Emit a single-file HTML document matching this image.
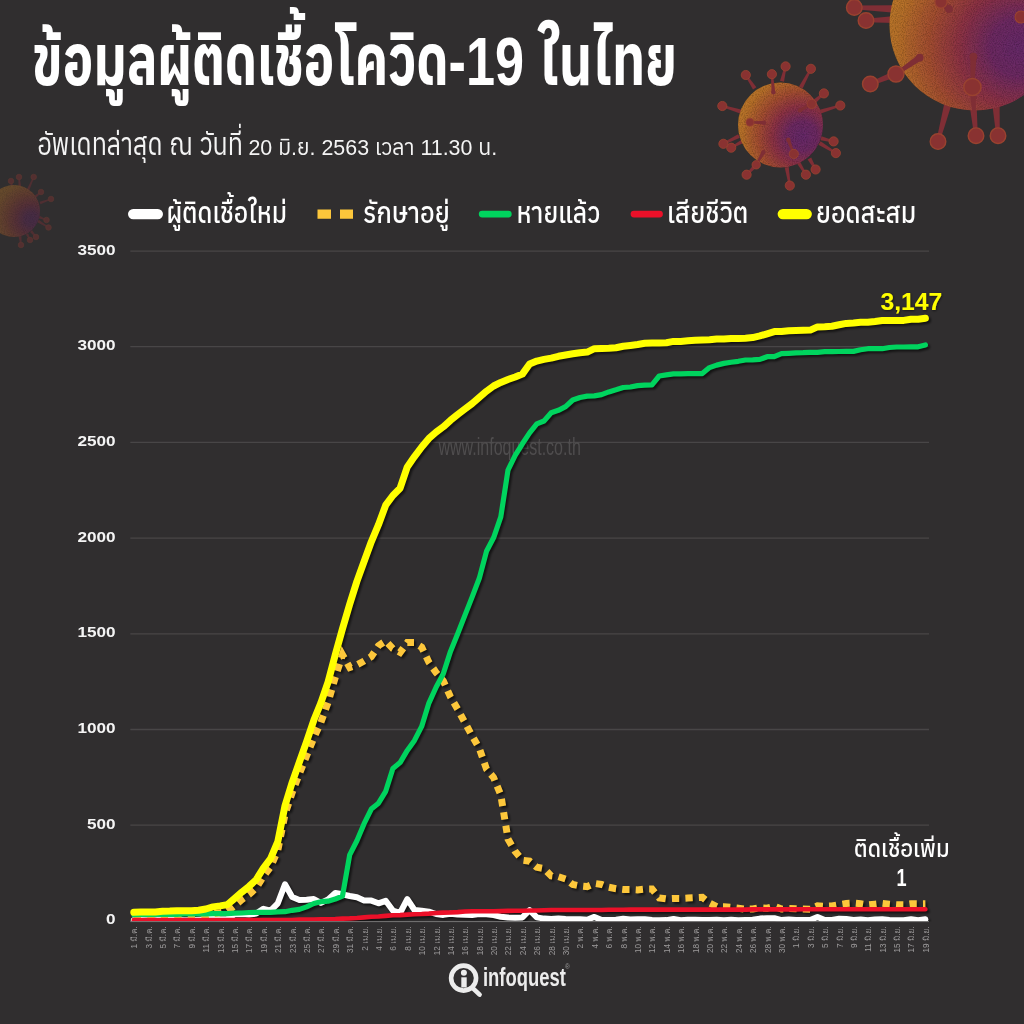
<!DOCTYPE html>
<html lang="th">
<head>
<meta charset="utf-8">
<title>ข้อมูลผู้ติดเชื้อโควิด-19 ในไทย</title>
<style>
html,body{margin:0;padding:0;}
body{width:1024px;height:1024px;overflow:hidden;background:#302e2f;position:relative;
 font-family:"Liberation Sans","Anuphan","Kanit","Noto Sans Thai",sans-serif;color:#fff;}
svg{position:absolute;left:0;top:0;display:block;}
.th{font-family:"Liberation Sans","Anuphan","Kanit","IBM Plex Sans Thai","Noto Sans Thai",sans-serif;}
</style>
</head>
<body>
<svg width="1024" height="1024" viewBox="0 0 1024 1024">
<defs>
<radialGradient id="gv" cx="0.76" cy="0.63" r="0.85">
<stop offset="0" stop-color="#6f2b72"/><stop offset="0.2" stop-color="#762b6a"/>
<stop offset="0.42" stop-color="#9c3548"/><stop offset="0.62" stop-color="#b55333"/>
<stop offset="0.85" stop-color="#cc7c2a"/><stop offset="1" stop-color="#d4872a"/>
</radialGradient>
<radialGradient id="gv2" cx="0.84" cy="0.66" r="0.9">
<stop offset="0" stop-color="#6f2b72"/><stop offset="0.14" stop-color="#762b6a"/>
<stop offset="0.34" stop-color="#9c3548"/><stop offset="0.54" stop-color="#b55333"/>
<stop offset="0.8" stop-color="#cc7c2a"/><stop offset="1" stop-color="#d4872a"/>
</radialGradient>
<filter id="grain" x="0" y="0" width="100%" height="100%">
<feTurbulence type="fractalNoise" baseFrequency="0.9" numOctaves="2" seed="3" result="n"/>
<feColorMatrix in="n" type="matrix" values="0 0 0 0 0  0 0 0 0 0  0 0 0 0 0  0.9 0 0 0 -0.32" result="a"/>
<feComposite in="a" in2="SourceAlpha" operator="in" result="g"/>
<feMerge><feMergeNode in="SourceGraphic"/><feMergeNode in="g"/></feMerge>
</filter>
<filter id="sh" x="-5%" y="-5%" width="110%" height="110%">
<feGaussianBlur in="SourceAlpha" stdDeviation="1.3"/><feOffset dx="1.8" dy="2.4" result="b"/>
<feFlood flood-color="#000" flood-opacity="0.6"/><feComposite in2="b" operator="in"/>
</filter>
<filter id="sh2" x="-10%" y="-20%" width="120%" height="140%"><feDropShadow dx="0.6" dy="0.8" stdDeviation="1" flood-color="#000" flood-opacity="0.6"/></filter>
</defs>
<!-- decorative virus illustrations -->
<g opacity="0.86">
<polygon points="891.9,12.4 892.1,5.2 854.4,5.6 854.2,9.2" fill="#8c2e36"/><circle cx="854.3" cy="7.4" r="7.8" fill="#983332" stroke="#ab4630" stroke-width="1.4"/>
<polygon points="895.1,23.1 894.9,15.9 865.9,18.7 866.1,22.3" fill="#8c2e36"/><circle cx="866.0" cy="20.5" r="7.8" fill="#983332" stroke="#ab4630" stroke-width="1.4"/>
<polygon points="901.3,75.3 898.7,68.7 869.6,82.3 871.0,85.7" fill="#8c2e36"/><circle cx="870.3" cy="84.0" r="7.8" fill="#983332" stroke="#ab4630" stroke-width="1.4"/>
<polygon points="951.5,104.4 944.5,102.6 936.3,141.1 939.7,142.1" fill="#8c2e36"/><circle cx="938.0" cy="141.6" r="7.8" fill="#983332" stroke="#ab4630" stroke-width="1.4"/>
<polygon points="976.6,103.7 969.4,104.3 974.2,135.9 977.8,135.5" fill="#8c2e36"/><circle cx="976.0" cy="135.7" r="7.8" fill="#983332" stroke="#ab4630" stroke-width="1.4"/>
<polygon points="999.6,104.8 992.4,105.2 996.2,135.8 999.8,135.6" fill="#8c2e36"/><circle cx="998.0" cy="135.7" r="7.8" fill="#983332" stroke="#ab4630" stroke-width="1.4"/>
<polygon points="1024.5,19.5 1023.5,12.5 1019.7,14.8 1020.3,18.4" fill="#8c2e36"/><circle cx="1020.0" cy="16.6" r="7.8" fill="#983332" stroke="#ab4630" stroke-width="1.4"/>
<circle cx="975.0" cy="25.0" r="85.5" fill="url(#gv)" filter="url(#grain)"/>
<polygon points="921.5,60.2 917.9,55.0 895.0,72.5 897.0,75.5" fill="#8c2e36"/><circle cx="919.7" cy="57.6" r="3.9" fill="#8c2e36"/><circle cx="896.0" cy="74.0" r="8.0" fill="#983332" stroke="#ab4630" stroke-width="1.4"/>
<polygon points="975.9,89.8 969.7,90.2 972.2,112.1 975.8,111.9" fill="#8c2e36"/><circle cx="972.8" cy="90.0" r="3.9" fill="#8c2e36"/><circle cx="974.0" cy="112.0" r="0.1" fill="#983332" stroke="#ab4630" stroke-width="0.6"/>
<polygon points="976.5,56.7 970.3,56.5 970.6,86.9 974.2,87.1" fill="#8c2e36"/><circle cx="973.4" cy="56.6" r="3.9" fill="#8c2e36"/><circle cx="972.4" cy="87.0" r="8.6" fill="#983332" stroke="#ab4630" stroke-width="1.5"/>
<polygon points="946.9,11.4 951.1,6.6 942.2,0.7 939.8,3.3" fill="#8c2e36"/><circle cx="949.0" cy="9.0" r="3.9" fill="#8c2e36"/><circle cx="941.0" cy="2.0" r="6.0" fill="#983332" stroke="#ab4630" stroke-width="1.1"/>
<polygon points="1030.0,20.1 1030.0,13.8 1021.0,15.2 1021.0,18.8" fill="#8c2e36"/><circle cx="1030.0" cy="17.0" r="3.9" fill="#8c2e36"/><circle cx="1021.0" cy="17.0" r="6.0" fill="#983332" stroke="#ab4630" stroke-width="1.1"/>
</g>
<g opacity="0.86">
<polygon points="753.0,89.4 756.4,87.2 746.6,74.4 745.0,75.6" fill="#8c2e36"/><circle cx="745.8" cy="75.0" r="4.6" fill="#983332" stroke="#ab4630" stroke-width="0.8"/>
<polygon points="780.0,80.8 784.0,81.8 786.6,66.6 784.6,66.2" fill="#8c2e36"/><circle cx="785.6" cy="66.4" r="4.6" fill="#983332" stroke="#ab4630" stroke-width="0.8"/>
<polygon points="799.0,86.5 802.6,88.5 811.8,69.2 810.0,68.3" fill="#8c2e36"/><circle cx="810.9" cy="68.8" r="4.6" fill="#983332" stroke="#ab4630" stroke-width="0.8"/>
<polygon points="813.7,99.4 816.3,102.6 824.6,94.2 823.2,92.6" fill="#8c2e36"/><circle cx="823.9" cy="93.4" r="4.6" fill="#983332" stroke="#ab4630" stroke-width="0.8"/>
<polygon points="819.7,109.8 820.9,113.6 840.6,106.5 840.0,104.5" fill="#8c2e36"/><circle cx="840.3" cy="105.5" r="4.6" fill="#983332" stroke="#ab4630" stroke-width="0.8"/>
<polygon points="821.5,136.3 820.5,140.3 833.4,142.4 833.8,140.4" fill="#8c2e36"/><circle cx="833.6" cy="141.4" r="4.6" fill="#983332" stroke="#ab4630" stroke-width="0.8"/>
<polygon points="820.6,141.3 818.4,144.7 835.4,154.0 836.4,152.2" fill="#8c2e36"/><circle cx="835.9" cy="153.1" r="4.6" fill="#983332" stroke="#ab4630" stroke-width="0.8"/>
<polygon points="811.2,157.6 807.6,159.6 814.7,170.0 816.5,169.0" fill="#8c2e36"/><circle cx="815.6" cy="169.5" r="4.6" fill="#983332" stroke="#ab4630" stroke-width="0.8"/>
<polygon points="798.7,158.9 795.3,161.1 805.0,175.2 806.8,174.2" fill="#8c2e36"/><circle cx="805.9" cy="174.7" r="4.6" fill="#983332" stroke="#ab4630" stroke-width="0.8"/>
<polygon points="788.7,166.9 784.7,167.5 788.8,185.8 790.8,185.4" fill="#8c2e36"/><circle cx="789.8" cy="185.6" r="4.6" fill="#983332" stroke="#ab4630" stroke-width="0.8"/>
<polygon points="757.7,166.2 754.8,163.4 745.9,174.0 747.3,175.4" fill="#8c2e36"/><circle cx="746.6" cy="174.7" r="4.6" fill="#983332" stroke="#ab4630" stroke-width="0.8"/>
<polygon points="745.5,142.1 743.5,138.5 730.8,146.8 731.7,148.6" fill="#8c2e36"/><circle cx="731.2" cy="147.7" r="4.6" fill="#983332" stroke="#ab4630" stroke-width="0.8"/>
<polygon points="739.9,137.8 738.1,134.2 722.9,142.8 723.9,144.7" fill="#8c2e36"/><circle cx="723.4" cy="143.8" r="4.6" fill="#983332" stroke="#ab4630" stroke-width="0.8"/>
<polygon points="740.8,113.7 742.0,109.7 722.6,105.0 722.0,107.0" fill="#8c2e36"/><circle cx="722.3" cy="106.0" r="4.6" fill="#983332" stroke="#ab4630" stroke-width="0.8"/>
<circle cx="780.5" cy="125.0" r="42.5" fill="url(#gv)" filter="url(#grain)"/>
<polygon points="771.6,92.3 775.2,92.1 772.9,74.1 770.9,74.3" fill="#8c2e36"/><circle cx="773.4" cy="92.2" r="2.2" fill="#8c2e36"/><circle cx="771.9" cy="74.2" r="4.6" fill="#983332" stroke="#ab4630" stroke-width="0.8"/>
<polygon points="799.1,108.6 800.9,111.8 812.2,104.8 811.2,103.0" fill="#8c2e36"/><circle cx="800.0" cy="110.2" r="2.2" fill="#8c2e36"/><circle cx="811.7" cy="103.9" r="4.6" fill="#983332" stroke="#ab4630" stroke-width="0.8"/>
<polygon points="790.0,139.2 786.6,140.4 792.8,154.3 794.7,153.5" fill="#8c2e36"/><circle cx="788.3" cy="139.8" r="2.2" fill="#8c2e36"/><circle cx="793.8" cy="153.9" r="4.6" fill="#983332" stroke="#ab4630" stroke-width="0.8"/>
<polygon points="764.9,153.2 761.7,151.4 755.4,164.3 757.1,165.3" fill="#8c2e36"/><circle cx="763.3" cy="152.3" r="2.2" fill="#8c2e36"/><circle cx="756.2" cy="164.8" r="4.2" fill="#983332" stroke="#ab4630" stroke-width="0.8"/>
<polygon points="763.9,124.5 764.1,120.9 750.0,121.3 750.0,123.3" fill="#8c2e36"/><circle cx="764.0" cy="122.7" r="2.2" fill="#8c2e36"/><circle cx="750.0" cy="122.3" r="4.0" fill="#983332" stroke="#ab4630" stroke-width="0.7"/>
</g>
<g opacity="0.34">
<polygon points="18.6,188.1 21.4,187.9 19.7,176.9 18.3,177.1" fill="#8c2e36"/><circle cx="19.0" cy="177.0" r="2.8" fill="#983332" stroke="#ab4630" stroke-width="0.6"/>
<polygon points="10.7,188.2 13.3,187.8 11.7,180.9 10.3,181.1" fill="#8c2e36"/><circle cx="11.0" cy="181.0" r="2.8" fill="#983332" stroke="#ab4630" stroke-width="0.6"/>
<polygon points="26.8,189.5 29.2,190.5 34.3,177.3 33.1,176.7" fill="#8c2e36"/><circle cx="33.7" cy="177.0" r="2.8" fill="#983332" stroke="#ab4630" stroke-width="0.6"/>
<polygon points="34.1,196.0 35.9,198.0 41.4,192.5 40.6,191.5" fill="#8c2e36"/><circle cx="41.0" cy="192.0" r="2.8" fill="#983332" stroke="#ab4630" stroke-width="0.6"/>
<polygon points="39.5,201.7 40.5,204.3 51.2,199.6 50.8,198.4" fill="#8c2e36"/><circle cx="51.0" cy="199.0" r="2.8" fill="#983332" stroke="#ab4630" stroke-width="0.6"/>
<polygon points="39.5,215.7 38.5,218.3 46.2,220.6 46.8,219.4" fill="#8c2e36"/><circle cx="46.5" cy="220.0" r="2.8" fill="#983332" stroke="#ab4630" stroke-width="0.6"/>
<polygon points="38.7,219.8 37.3,222.2 48.1,228.1 48.9,226.9" fill="#8c2e36"/><circle cx="48.5" cy="227.5" r="2.8" fill="#983332" stroke="#ab4630" stroke-width="0.6"/>
<polygon points="32.0,230.1 30.0,231.9 35.5,237.4 36.5,236.6" fill="#8c2e36"/><circle cx="36.0" cy="237.0" r="2.8" fill="#983332" stroke="#ab4630" stroke-width="0.6"/>
<polygon points="28.2,233.4 25.8,234.6 29.4,240.3 30.6,239.7" fill="#8c2e36"/><circle cx="30.0" cy="240.0" r="2.8" fill="#983332" stroke="#ab4630" stroke-width="0.6"/>
<polygon points="21.4,235.8 18.6,236.2 20.3,245.1 21.7,244.9" fill="#8c2e36"/><circle cx="21.0" cy="245.0" r="2.8" fill="#983332" stroke="#ab4630" stroke-width="0.6"/>
<circle cx="14.0" cy="211.0" r="26.0" fill="url(#gv2)" filter="url(#grain)"/>
</g>

<!-- headings -->
<g class="th" fill="#fff">
<text x="32" y="85" font-size="69" font-weight="660" textLength="645" lengthAdjust="spacingAndGlyphs">ข้อมูลผู้ติดเชื้อโควิด-19 ในไทย</text>
<text x="37.4" y="155.3" font-size="30.4" font-weight="400" fill="#f4f4f4" textLength="205.6" lengthAdjust="spacingAndGlyphs">อัพเดทล่าสุด ณ วันที่</text>
<text x="248.4" y="155.3" font-size="22" font-weight="400" fill="#f4f4f4" textLength="248.9" lengthAdjust="spacingAndGlyphs">20 มิ.ย. 2563 เวลา 11.30 น.</text>
</g>
<!-- legend -->
<g class="th" fill="#fff" font-size="29" font-weight="500">
<text x="166.4" y="222.5" textLength="120.7" lengthAdjust="spacingAndGlyphs">ผู้ติดเชื้อใหม่</text>
<text x="363" y="222.5" textLength="86.8" lengthAdjust="spacingAndGlyphs">รักษาอยู่</text>
<text x="516.4" y="222.5" textLength="83.8" lengthAdjust="spacingAndGlyphs">หายแล้ว</text>
<text x="667" y="222.5" textLength="81.5" lengthAdjust="spacingAndGlyphs">เสียชีวิต</text>
<text x="816" y="222.5" textLength="100.3" lengthAdjust="spacingAndGlyphs">ยอดสะสม</text>
</g>
<g fill="none" stroke-linecap="round">
<line x1="133.2" x2="157.8" y1="214.1" y2="214.1" stroke="#fff" stroke-width="10.4"/>
<line x1="317.5" x2="353" y1="214.1" y2="214.1" stroke="#fdc73b" stroke-width="9.2" stroke-dasharray="13.5 9" stroke-linecap="butt"/>
<line x1="482.2" x2="508.3" y1="214.1" y2="214.1" stroke="#00d45e" stroke-width="6.8"/>
<line x1="634" x2="659.5" y1="214.1" y2="214.1" stroke="#ec1029" stroke-width="6.8"/>
<line x1="782.8" x2="806.7" y1="214.1" y2="214.1" stroke="#ffff00" stroke-width="10.4"/>
</g>
<!-- chart -->
<g stroke="#484647" stroke-width="1.3">
<line x1="130.3" x2="929" y1="825.2" y2="825.2"/>
<line x1="130.3" x2="929" y1="729.5" y2="729.5"/>
<line x1="130.3" x2="929" y1="633.8" y2="633.8"/>
<line x1="130.3" x2="929" y1="538.1" y2="538.1"/>
<line x1="130.3" x2="929" y1="442.4" y2="442.4"/>
<line x1="130.3" x2="929" y1="346.7" y2="346.7"/>
<line x1="130.3" x2="929" y1="251.1" y2="251.1"/>
</g>
<text x="438.5" y="454.8" font-family="'Liberation Sans Narrow','Liberation Sans',sans-serif" font-size="24.7" fill="#4f4d4e" textLength="142.3" lengthAdjust="spacingAndGlyphs">www.infoquest.co.th</text>
<g font-family="'Liberation Sans',sans-serif" font-weight="700" font-size="15.2" fill="#f4f4f4">
<text transform="translate(115.6 924.4) scale(1.13 1)" text-anchor="end">0</text>
<text transform="translate(115.6 828.7) scale(1.13 1)" text-anchor="end">500</text>
<text transform="translate(115.6 733.0) scale(1.13 1)" text-anchor="end">1000</text>
<text transform="translate(115.6 637.3) scale(1.13 1)" text-anchor="end">1500</text>
<text transform="translate(115.6 541.7) scale(1.13 1)" text-anchor="end">2000</text>
<text transform="translate(115.6 446.0) scale(1.13 1)" text-anchor="end">2500</text>
<text transform="translate(115.6 350.3) scale(1.13 1)" text-anchor="end">3000</text>
<text transform="translate(115.6 254.6) scale(1.13 1)" text-anchor="end">3500</text>
</g>
<g font-family="'Liberation Sans','Loma','Noto Sans Thai',sans-serif" font-size="8.2" fill="#9c9a9b">
<text transform="translate(137.2 926.3) rotate(-90)" text-anchor="end">1 มี.ค.</text>
<text transform="translate(151.6 926.3) rotate(-90)" text-anchor="end">3 มี.ค.</text>
<text transform="translate(166.0 926.3) rotate(-90)" text-anchor="end">5 มี.ค.</text>
<text transform="translate(180.4 926.3) rotate(-90)" text-anchor="end">7 มี.ค.</text>
<text transform="translate(194.8 926.3) rotate(-90)" text-anchor="end">9 มี.ค.</text>
<text transform="translate(209.2 926.3) rotate(-90)" text-anchor="end">11 มี.ค.</text>
<text transform="translate(223.6 926.3) rotate(-90)" text-anchor="end">13 มี.ค.</text>
<text transform="translate(238.0 926.3) rotate(-90)" text-anchor="end">15 มี.ค.</text>
<text transform="translate(252.4 926.3) rotate(-90)" text-anchor="end">17 มี.ค.</text>
<text transform="translate(266.8 926.3) rotate(-90)" text-anchor="end">19 มี.ค.</text>
<text transform="translate(281.2 926.3) rotate(-90)" text-anchor="end">21 มี.ค.</text>
<text transform="translate(295.6 926.3) rotate(-90)" text-anchor="end">23 มี.ค.</text>
<text transform="translate(310.0 926.3) rotate(-90)" text-anchor="end">25 มี.ค.</text>
<text transform="translate(324.3 926.3) rotate(-90)" text-anchor="end">27 มี.ค.</text>
<text transform="translate(338.7 926.3) rotate(-90)" text-anchor="end">29 มี.ค.</text>
<text transform="translate(353.1 926.3) rotate(-90)" text-anchor="end">31 มี.ค.</text>
<text transform="translate(367.5 926.3) rotate(-90)" text-anchor="end">2 เม.ย.</text>
<text transform="translate(381.9 926.3) rotate(-90)" text-anchor="end">4 เม.ย.</text>
<text transform="translate(396.3 926.3) rotate(-90)" text-anchor="end">6 เม.ย.</text>
<text transform="translate(410.7 926.3) rotate(-90)" text-anchor="end">8 เม.ย.</text>
<text transform="translate(425.1 926.3) rotate(-90)" text-anchor="end">10 เม.ย.</text>
<text transform="translate(439.5 926.3) rotate(-90)" text-anchor="end">12 เม.ย.</text>
<text transform="translate(453.9 926.3) rotate(-90)" text-anchor="end">14 เม.ย.</text>
<text transform="translate(468.3 926.3) rotate(-90)" text-anchor="end">16 เม.ย.</text>
<text transform="translate(482.7 926.3) rotate(-90)" text-anchor="end">18 เม.ย.</text>
<text transform="translate(497.0 926.3) rotate(-90)" text-anchor="end">20 เม.ย.</text>
<text transform="translate(511.4 926.3) rotate(-90)" text-anchor="end">22 เม.ย.</text>
<text transform="translate(525.8 926.3) rotate(-90)" text-anchor="end">24 เม.ย.</text>
<text transform="translate(540.2 926.3) rotate(-90)" text-anchor="end">26 เม.ย.</text>
<text transform="translate(554.6 926.3) rotate(-90)" text-anchor="end">28 เม.ย.</text>
<text transform="translate(569.0 926.3) rotate(-90)" text-anchor="end">30 เม.ย.</text>
<text transform="translate(583.4 926.3) rotate(-90)" text-anchor="end">2 พ.ค.</text>
<text transform="translate(597.8 926.3) rotate(-90)" text-anchor="end">4 พ.ค.</text>
<text transform="translate(612.2 926.3) rotate(-90)" text-anchor="end">6 พ.ค.</text>
<text transform="translate(626.6 926.3) rotate(-90)" text-anchor="end">8 พ.ค.</text>
<text transform="translate(641.0 926.3) rotate(-90)" text-anchor="end">10 พ.ค.</text>
<text transform="translate(655.4 926.3) rotate(-90)" text-anchor="end">12 พ.ค.</text>
<text transform="translate(669.8 926.3) rotate(-90)" text-anchor="end">14 พ.ค.</text>
<text transform="translate(684.1 926.3) rotate(-90)" text-anchor="end">16 พ.ค.</text>
<text transform="translate(698.5 926.3) rotate(-90)" text-anchor="end">18 พ.ค.</text>
<text transform="translate(712.9 926.3) rotate(-90)" text-anchor="end">20 พ.ค.</text>
<text transform="translate(727.3 926.3) rotate(-90)" text-anchor="end">22 พ.ค.</text>
<text transform="translate(741.7 926.3) rotate(-90)" text-anchor="end">24 พ.ค.</text>
<text transform="translate(756.1 926.3) rotate(-90)" text-anchor="end">26 พ.ค.</text>
<text transform="translate(770.5 926.3) rotate(-90)" text-anchor="end">28 พ.ค.</text>
<text transform="translate(784.9 926.3) rotate(-90)" text-anchor="end">30 พ.ค.</text>
<text transform="translate(799.3 926.3) rotate(-90)" text-anchor="end">1 มิ.ย.</text>
<text transform="translate(813.7 926.3) rotate(-90)" text-anchor="end">3 มิ.ย.</text>
<text transform="translate(828.1 926.3) rotate(-90)" text-anchor="end">5 มิ.ย.</text>
<text transform="translate(842.5 926.3) rotate(-90)" text-anchor="end">7 มิ.ย.</text>
<text transform="translate(856.9 926.3) rotate(-90)" text-anchor="end">9 มิ.ย.</text>
<text transform="translate(871.2 926.3) rotate(-90)" text-anchor="end">11 มิ.ย.</text>
<text transform="translate(885.6 926.3) rotate(-90)" text-anchor="end">13 มิ.ย.</text>
<text transform="translate(900.0 926.3) rotate(-90)" text-anchor="end">15 มิ.ย.</text>
<text transform="translate(914.4 926.3) rotate(-90)" text-anchor="end">17 มิ.ย.</text>
<text transform="translate(928.8 926.3) rotate(-90)" text-anchor="end">19 มิ.ย.</text>
</g>
<clipPath id="plot"><rect x="120" y="230" width="830" height="691.5"/></clipPath>
<g fill="none" stroke-linejoin="round" stroke-linecap="round" clip-path="url(#plot)">
<g filter="url(#sh)">
<use href="#s1"/><use href="#s2"/><use href="#s3"/><use href="#s4"/><use href="#s5"/>
</g>
<path id="s1" d="M133.8 920.3 L141.0 920.1 L148.2 920.3 L155.4 920.3 L162.6 919.5 L169.8 920.1 L177.0 919.9 L184.2 920.3 L191.4 920.3 L198.6 919.7 L205.8 919.2 L213.0 918.2 L220.2 919.3 L227.4 919.0 L234.6 914.2 L241.8 914.0 L249.0 914.6 L256.2 913.6 L263.4 908.8 L270.6 910.7 L277.8 903.3 L285.0 884.3 L292.2 897.0 L299.4 900.0 L306.6 899.8 L313.8 899.1 L320.9 902.9 L328.1 899.4 L335.3 892.9 L342.5 894.3 L349.7 896.0 L356.9 897.3 L364.1 900.4 L371.3 900.6 L378.5 903.3 L385.7 900.8 L392.9 910.5 L400.1 913.0 L407.3 899.1 L414.5 910.0 L421.7 910.7 L428.9 911.7 L436.1 914.0 L443.3 914.9 L450.5 913.8 L457.7 914.6 L464.9 914.8 L472.1 914.9 L479.3 914.0 L486.5 914.2 L493.6 915.1 L500.8 916.7 L508.0 917.4 L515.2 917.8 L522.4 917.4 L529.6 910.2 L536.8 917.4 L544.0 918.6 L551.2 919.0 L558.4 918.6 L565.6 919.0 L572.8 919.2 L580.0 919.2 L587.2 919.7 L594.4 916.9 L601.6 920.1 L608.8 920.1 L616.0 919.7 L623.2 918.8 L630.4 919.5 L637.6 919.3 L644.8 919.2 L652.0 919.9 L659.2 920.3 L666.4 920.1 L673.5 919.0 L680.7 920.3 L687.9 919.7 L695.1 919.7 L702.3 919.9 L709.5 920.1 L716.7 919.7 L723.9 920.3 L731.1 919.7 L738.3 920.3 L745.5 919.9 L752.7 919.7 L759.9 918.6 L767.1 918.2 L774.3 918.2 L781.5 920.1 L788.7 919.5 L795.9 920.1 L803.1 920.1 L810.3 920.1 L817.5 917.0 L824.7 920.1 L831.9 919.9 L839.1 918.8 L846.3 919.0 L853.5 919.9 L860.6 919.5 L867.8 920.3 L875.0 919.5 L882.2 919.3 L889.4 920.1 L896.6 920.3 L903.8 920.3 L911.0 919.2 L918.2 920.3 L925.4 919.3" stroke="#fff" stroke-width="6"/>
<path id="s2" d="M133.8 918.2 L141.0 918.2 L148.2 918.2 L155.4 918.2 L162.6 917.4 L169.8 917.2 L177.0 916.9 L184.2 917.2 L191.4 917.2 L198.6 916.7 L205.8 915.7 L213.0 913.8 L220.2 912.8 L227.4 911.5 L234.6 905.8 L241.8 899.6 L249.0 894.5 L256.2 888.0 L263.4 876.5 L270.6 866.9 L277.8 850.3 L285.0 814.5 L292.2 792.5 L299.4 773.7 L306.6 755.7 L313.8 737.9 L320.9 722.4 L328.1 702.3 L335.3 677.3 L342.5 654.7 L349.7 667.5 L356.9 664.8 L364.1 661.0 L371.3 656.6 L378.5 645.7 L385.7 640.9 L392.9 648.6 L400.1 652.4 L407.3 642.6 L414.5 642.6 L421.7 647.2 L428.9 662.3 L436.1 672.5 L443.3 680.9 L450.5 697.0 L457.7 709.2 L464.9 722.6 L472.1 735.8 L479.3 748.3 L486.5 769.1 L493.6 777.5 L500.8 795.0 L508.0 839.0 L515.2 851.6 L522.4 860.2 L529.6 861.2 L536.8 867.3 L544.0 868.6 L551.2 875.9 L558.4 876.7 L565.6 879.0 L572.8 884.5 L580.0 885.9 L587.2 886.6 L594.4 883.4 L601.6 884.5 L608.8 887.2 L616.0 888.7 L623.2 889.5 L630.4 889.5 L637.6 889.9 L644.8 889.1 L652.0 889.1 L659.2 897.9 L666.4 898.9 L673.5 898.5 L680.7 898.5 L687.9 898.1 L695.1 897.7 L702.3 897.3 L709.5 903.1 L716.7 906.7 L723.9 906.7 L731.1 907.3 L738.3 908.2 L745.5 909.2 L752.7 909.0 L759.9 907.7 L767.1 908.2 L774.3 906.1 L781.5 909.0 L788.7 908.6 L795.9 908.8 L803.1 909.0 L810.3 909.2 L817.5 905.9 L824.7 906.3 L831.9 905.9 L839.1 904.6 L846.3 903.5 L853.5 903.1 L860.6 903.8 L867.8 905.0 L875.0 904.2 L882.2 903.3 L889.4 904.2 L896.6 904.8 L903.8 904.8 L911.0 903.8 L918.2 903.8 L925.4 903.7" stroke="#fdc73b" stroke-width="7" stroke-dasharray="7.3 6.2" stroke-linecap="butt" stroke-linejoin="miter"/>
<path id="s3" d="M133.8 914.6 L141.0 914.4 L148.2 914.4 L155.4 914.4 L162.6 914.4 L169.8 914.4 L177.0 914.4 L184.2 914.0 L191.4 914.0 L198.6 914.0 L205.8 913.8 L213.0 913.6 L220.2 913.6 L227.4 913.6 L234.6 913.2 L241.8 913.0 L249.0 912.5 L256.2 912.3 L263.4 912.3 L270.6 912.3 L277.8 911.9 L285.0 911.7 L292.2 910.3 L299.4 909.4 L306.6 906.9 L313.8 903.5 L320.9 901.7 L328.1 901.2 L335.3 899.1 L342.5 896.0 L349.7 854.9 L356.9 840.7 L364.1 823.7 L371.3 809.1 L378.5 803.2 L385.7 791.3 L392.9 768.5 L400.1 762.6 L407.3 750.4 L414.5 740.4 L421.7 726.4 L428.9 703.1 L436.1 687.2 L443.3 673.8 L450.5 651.4 L457.7 633.8 L464.9 615.4 L472.1 597.1 L479.3 578.3 L486.5 551.3 L493.6 537.8 L500.8 516.9 L508.0 470.2 L515.2 455.3 L522.4 443.8 L529.6 432.9 L536.8 423.9 L544.0 421.0 L551.2 412.8 L558.4 410.3 L565.6 406.7 L572.8 400.0 L580.0 397.5 L587.2 396.1 L594.4 395.9 L601.6 394.6 L608.8 391.9 L616.0 389.8 L623.2 387.5 L630.4 387.0 L637.6 385.6 L644.8 385.2 L652.0 384.8 L659.2 376.0 L666.4 374.9 L673.5 373.9 L680.7 373.9 L687.9 373.7 L695.1 373.6 L702.3 373.6 L709.5 367.6 L716.7 365.1 L723.9 363.4 L731.1 362.3 L738.3 361.3 L745.5 360.0 L752.7 359.8 L759.9 359.4 L767.1 356.7 L774.3 356.7 L781.5 353.7 L788.7 353.3 L795.9 352.9 L803.1 352.7 L810.3 352.3 L817.5 352.3 L824.7 351.7 L831.9 351.7 L839.1 351.5 L846.3 351.4 L853.5 351.4 L860.6 349.8 L867.8 348.7 L875.0 348.7 L882.2 348.7 L889.4 347.5 L896.6 347.0 L903.8 347.0 L911.0 346.8 L918.2 346.8 L925.4 345.0" stroke="#00d45e" stroke-width="5.2"/>
<path id="s4" d="M133.8 920.1 L141.0 920.1 L148.2 920.1 L155.4 920.1 L162.6 920.1 L169.8 920.1 L177.0 920.1 L184.2 920.1 L191.4 920.1 L198.6 920.1 L205.8 920.1 L213.0 920.1 L220.2 920.1 L227.4 920.1 L234.6 920.1 L241.8 920.1 L249.0 920.1 L256.2 920.1 L263.4 920.1 L270.6 920.1 L277.8 920.1 L285.0 920.1 L292.2 920.1 L299.4 919.5 L306.6 919.5 L313.8 919.5 L320.9 919.3 L328.1 919.2 L335.3 919.0 L342.5 918.6 L349.7 918.4 L356.9 918.0 L364.1 917.4 L371.3 916.7 L378.5 916.5 L385.7 915.9 L392.9 915.3 L400.1 915.1 L407.3 914.6 L414.5 914.2 L421.7 914.0 L428.9 913.6 L436.1 913.0 L443.3 912.6 L450.5 912.5 L457.7 912.1 L464.9 911.5 L472.1 911.3 L479.3 911.3 L486.5 911.3 L493.6 911.3 L500.8 911.1 L508.0 910.9 L515.2 910.7 L522.4 910.7 L529.6 910.5 L536.8 910.5 L544.0 910.3 L551.2 910.0 L558.4 910.0 L565.6 910.0 L572.8 910.0 L580.0 910.0 L587.2 910.0 L594.4 910.0 L601.6 910.0 L608.8 909.8 L616.0 909.8 L623.2 909.8 L630.4 909.6 L637.6 909.6 L644.8 909.6 L652.0 909.6 L659.2 909.6 L666.4 909.6 L673.5 909.6 L680.7 909.6 L687.9 909.6 L695.1 909.6 L702.3 909.6 L709.5 909.6 L716.7 909.6 L723.9 909.6 L731.1 909.6 L738.3 909.6 L745.5 909.6 L752.7 909.4 L759.9 909.4 L767.1 909.4 L774.3 909.4 L781.5 909.4 L788.7 909.4 L795.9 909.4 L803.1 909.2 L810.3 909.2 L817.5 909.2 L824.7 909.2 L831.9 909.2 L839.1 909.2 L846.3 909.2 L853.5 909.2 L860.6 909.2 L867.8 909.2 L875.0 909.2 L882.2 909.2 L889.4 909.2 L896.6 909.2 L903.8 909.2 L911.0 909.2 L918.2 909.2 L925.4 909.2" stroke="#ec1029" stroke-width="4.6"/>
<path id="s5" d="M133.8 912.3 L141.0 912.1 L148.2 912.1 L155.4 912.1 L162.6 911.3 L169.8 911.1 L177.0 910.7 L184.2 910.7 L191.4 910.7 L198.6 910.2 L205.8 909.0 L213.0 906.9 L220.2 905.9 L227.4 904.6 L234.6 898.5 L241.8 892.2 L249.0 886.4 L256.2 879.7 L263.4 868.2 L270.6 858.7 L277.8 841.6 L285.0 805.7 L292.2 782.3 L299.4 762.0 L306.6 741.6 L313.8 720.3 L320.9 702.9 L328.1 682.0 L335.3 654.7 L342.5 628.7 L349.7 604.3 L356.9 581.4 L364.1 561.5 L371.3 541.8 L378.5 524.7 L385.7 505.2 L392.9 495.5 L400.1 488.2 L407.3 466.9 L414.5 456.6 L421.7 447.0 L428.9 438.4 L436.1 432.1 L443.3 426.8 L450.5 420.3 L457.7 414.5 L464.9 409.0 L472.1 403.6 L479.3 397.3 L486.5 391.2 L493.6 386.0 L500.8 382.4 L508.0 379.5 L515.2 377.0 L522.4 374.1 L529.6 364.0 L536.8 361.1 L544.0 359.4 L551.2 358.1 L558.4 356.3 L565.6 355.0 L572.8 353.8 L580.0 352.7 L587.2 352.1 L594.4 348.7 L601.6 348.5 L608.8 348.3 L616.0 347.7 L623.2 346.2 L630.4 345.4 L637.6 344.5 L644.8 343.3 L652.0 342.9 L659.2 342.9 L666.4 342.7 L673.5 341.4 L680.7 341.4 L687.9 340.8 L695.1 340.3 L702.3 339.9 L709.5 339.7 L716.7 339.1 L723.9 339.1 L731.1 338.5 L738.3 338.5 L745.5 338.2 L752.7 337.6 L759.9 335.9 L767.1 333.8 L774.3 331.6 L781.5 331.5 L788.7 330.7 L795.9 330.5 L803.1 330.3 L810.3 330.1 L817.5 326.9 L824.7 326.7 L831.9 326.3 L839.1 324.8 L846.3 323.4 L853.5 323.0 L860.6 322.3 L867.8 322.3 L875.0 321.5 L882.2 320.5 L889.4 320.4 L896.6 320.4 L903.8 320.4 L911.0 319.2 L918.2 319.2 L925.4 318.2" stroke="#ffff00" stroke-width="7"/>
</g>
<line x1="130.3" x2="929" y1="921.6" y2="921.6" stroke="#777576" stroke-width="1"/>
<!-- annotations -->
<text transform="translate(911.3 310.3) scale(1.02 1)" text-anchor="middle" font-family="'Liberation Sans',sans-serif" font-weight="700" font-size="24.2" fill="#ffff00" filter="url(#sh2)">3,147</text>
<text class="th" x="854" y="857.3" font-size="24.4" font-weight="500" fill="#fff" textLength="95.8" lengthAdjust="spacingAndGlyphs">ติดเชื้อเพิ่ม</text>
<text class="th" transform="translate(901.5 885.8) scale(0.74 1)" text-anchor="middle" font-size="24.5" font-weight="700" fill="#fff">1</text>
<!-- infoquest logo -->
<g>
<circle cx="463.6" cy="978.1" r="12.5" fill="none" stroke="#ececec" stroke-width="4.6"/>
<line x1="473" y1="988.3" x2="479.6" y2="994.6" stroke="#ececec" stroke-width="4.6" stroke-linecap="round"/>
<circle cx="463.9" cy="972.7" r="3" fill="#ececec"/>
<rect x="461.3" y="977.3" width="5.4" height="10.2" fill="#ececec"/>
<text x="483" y="986.3" font-family="'Liberation Sans Narrow','Liberation Sans',sans-serif" font-weight="700" font-size="26" fill="#ececec" textLength="82.9" lengthAdjust="spacingAndGlyphs">infoquest</text>
<text x="565" y="968.5" font-family="'Liberation Sans',sans-serif" font-size="6.5" fill="#9a9a9a">®</text>
</g>
</svg>
</body>
</html>
